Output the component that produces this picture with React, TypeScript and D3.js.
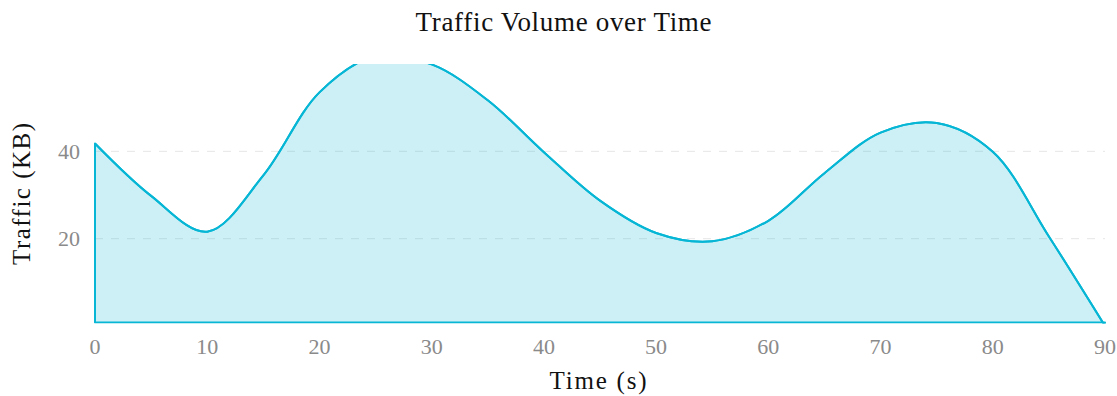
import React from "react";
import * as d3 from "d3";

const times = [0, 5, 10, 15, 20, 25, 30, 35, 40, 45, 50, 55, 60, 65, 70, 75, 80, 85, 90];
const traffic = [41.8, 29.8, 21.6, 34.5, 53.5, 61.8, 59.9, 51.7, 39.8, 28.7, 21.3, 19.4, 24.1, 35, 44.3, 46.5, 39.9, 20.5, 0];
const xTicks = [0, 10, 20, 30, 40, 50, 60, 70, 80, 90];
const yTicks = [20, 40];

const W = 1117;
const H = 396;
const left = 95;
const right = 1105;
const top = 64;
const bottom = 326;
const plotBottom = 322.5;
const color = "#06b6d4";
const font = "'Liberation Serif', 'Times New Roman', serif";

export default function App() {
  const x = d3.scaleLinear().domain([0, 90]).range([left, right]);
  const y = d3.scaleLinear().domain([0, 60]).range([bottom, top]);
  const pts = times.map((t, i) => [t, traffic[i]] as [number, number]);
  const curve = d3.curveCatmullRom.alpha(0.5);
  const line = d3
    .line<[number, number]>()
    .x((d) => x(d[0]))
    .y((d) => y(d[1]))
    .curve(curve);
  const area = d3
    .area<[number, number]>()
    .x((d) => x(d[0]))
    .y0(plotBottom)
    .y1((d) => y(d[1]))
    .curve(curve);

  return (
    <svg
      width={W}
      height={H}
      style={{ position: "absolute", left: 0, top: 0, background: "#fff" }}
    >
      <defs>
        <clipPath id="plotclip">
          <rect x={left - 1.5} y={top} width={right - left + 3} height={plotBottom + 1 - top} />
        </clipPath>
      </defs>
      <text
        x={563.5}
        y={30.5}
        textAnchor="middle"
        fontFamily={font}
        fontSize={27}
        fill="#111"
        textLength={296}
        lengthAdjust="spacing"
      >
        Traffic Volume over Time
      </text>
      {yTicks.map((t) => (
        <line
          key={"g" + t}
          x1={left}
          x2={right}
          y1={y(t)}
          y2={y(t)}
          stroke="#e6e6e6"
          strokeWidth={1}
          strokeDasharray="8,8"
        />
      ))}
      <g clipPath="url(#plotclip)">
        <path d={area(pts) || ""} fill={color} fillOpacity={0.2} stroke={color} strokeWidth={2} strokeLinejoin="round" />
        <path d={line(pts) || ""} fill="none" stroke={color} strokeWidth={2} />
      </g>
      {yTicks.map((t) => (
        <text
          key={"yt" + t}
          x={80}
          y={y(t) + 7.5}
          textAnchor="end"
          fontFamily={font}
          fontSize={22}
          fill="#8a8a8a"
        >
          {t}
        </text>
      ))}
      {xTicks.map((t) => (
        <text
          key={"xt" + t}
          x={x(t)}
          y={354}
          textAnchor="middle"
          fontFamily={font}
          fontSize={22}
          fill="#8a8a8a"
        >
          {t}
        </text>
      ))}
      <text
        x={598}
        y={389}
        textAnchor="middle"
        fontFamily={font}
        fontSize={25}
        fill="#111"
        textLength={97}
        lengthAdjust="spacing"
      >
        Time (s)
      </text>
      <text
        transform={`translate(29.5, 194) rotate(-90)`}
        textAnchor="middle"
        fontFamily={font}
        fontSize={25}
        fill="#111"
        textLength={142}
        lengthAdjust="spacing"
      >
        Traffic (KB)
      </text>
    </svg>
  );
}
